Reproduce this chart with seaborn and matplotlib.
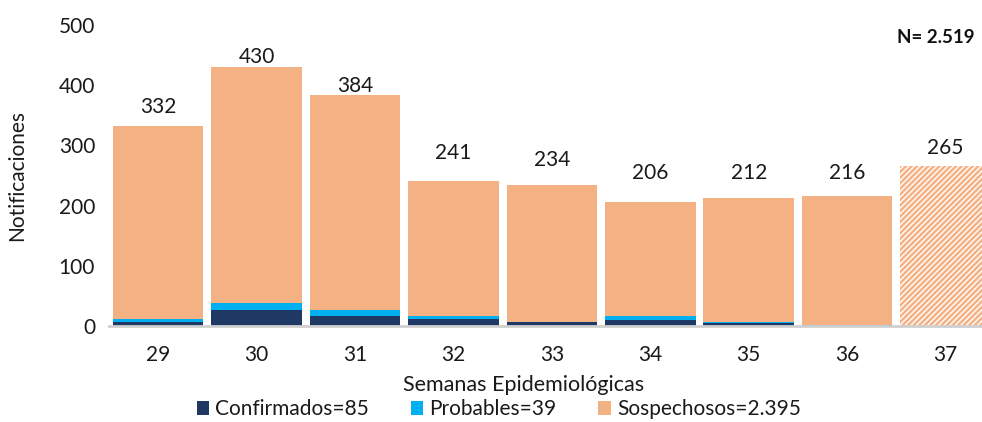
import matplotlib
matplotlib.use("Agg")
import matplotlib.pyplot as plt
from matplotlib.patches import Patch
import seaborn as sns
import pandas as pd
import numpy as np

weeks = ["29", "30", "31", "32", "33", "34", "35", "36", "37"]
totals = [332, 430, 384, 241, 234, 206, 212, 216, 265]
confirmados = [7, 27, 17, 12, 7, 10, 5, 0, 0]
probables = [4, 11, 10, 5, 0, 6, 2, 1, 0]
legend_labels = ["Confirmados=85", "Probables=39", "Sospechosos=2.395"]
n_text = "N= 2.519"

c_conf = "#203864"
c_prob = "#00B0F0"
c_sosp = "#F4B183"

sns.set_theme(style="white")
plt.rcParams["font.family"] = ["Lato", "DejaVu Sans"]
plt.rcParams["hatch.linewidth"] = 1.8

df = pd.DataFrame({
    "week": weeks,
    "total": totals,
    "conf_prob": np.array(confirmados) + np.array(probables),
    "conf": confirmados,
})

fig = plt.figure(figsize=(9.82, 4.22), dpi=100)
ax = fig.add_axes([109 / 982, 96 / 422, 1 - 109 / 982, 301 / 422])

w = 0.92
sns.barplot(data=df, x="week", y="total", color=c_sosp, saturation=1, width=w, ax=ax, linewidth=0)
sns.barplot(data=df, x="week", y="conf_prob", color=c_prob, saturation=1, width=w, ax=ax, linewidth=0)
sns.barplot(data=df, x="week", y="conf", color=c_conf, saturation=1, width=w, ax=ax, linewidth=0)

# last (incomplete) week drawn hatched
last = ax.patches[len(weeks) - 1]
last.set_facecolor("white")
last.set_edgecolor(c_sosp)
last.set_hatch("//////")
last.set_linewidth(0)

label_pad = [14, 7, 6.5, 20, 18, 21, 18, 16.5, 13]
for i, (t, p) in enumerate(zip(totals, label_pad)):
    ax.annotate(str(t), (i, t), xytext=(0, p), textcoords="offset points",
                ha="center", va="center", fontsize=15, color="#1a1a1a")

ax.set_xlim(-0.5, 8.37)
ax.set_ylim(0, 500)
ax.set_yticks([0, 100, 200, 300, 400, 500])
ax.tick_params(axis="both", labelsize=15, colors="#1a1a1a", length=0)
ax.tick_params(axis="x", pad=14)
ax.tick_params(axis="y", pad=10)
for s in ["top", "right", "left"]:
    ax.spines[s].set_visible(False)
ax.spines["bottom"].set_color("#d0d0d0")
ax.spines["bottom"].set_linewidth(2)

ax.set_ylabel("Notificaciones", fontsize=15, color="#1a1a1a")
ax.yaxis.set_label_coords(-0.094, 0.5)
ax.set_xlabel("Semanas Epidemiológicas", fontsize=15.5, color="#1a1a1a")
ax.xaxis.set_label_coords(0.475, -0.163)

fig.text(0.992, 0.91, n_text, ha="right", va="center", fontsize=13.5, fontweight="bold", color="#111111")

handles = [Patch(facecolor=c, edgecolor="none") for c in [c_conf, c_prob, c_sosp]]
fig.legend(handles, legend_labels, loc="center", bbox_to_anchor=(0.508, 0.03), ncol=3,
           frameon=False, fontsize=15, handlelength=0.6, handleheight=0.6,
           handletextpad=0.3, columnspacing=2.0, labelcolor="#1a1a1a",
           borderpad=0, borderaxespad=0)

fig.savefig("out.png", dpi=100)
